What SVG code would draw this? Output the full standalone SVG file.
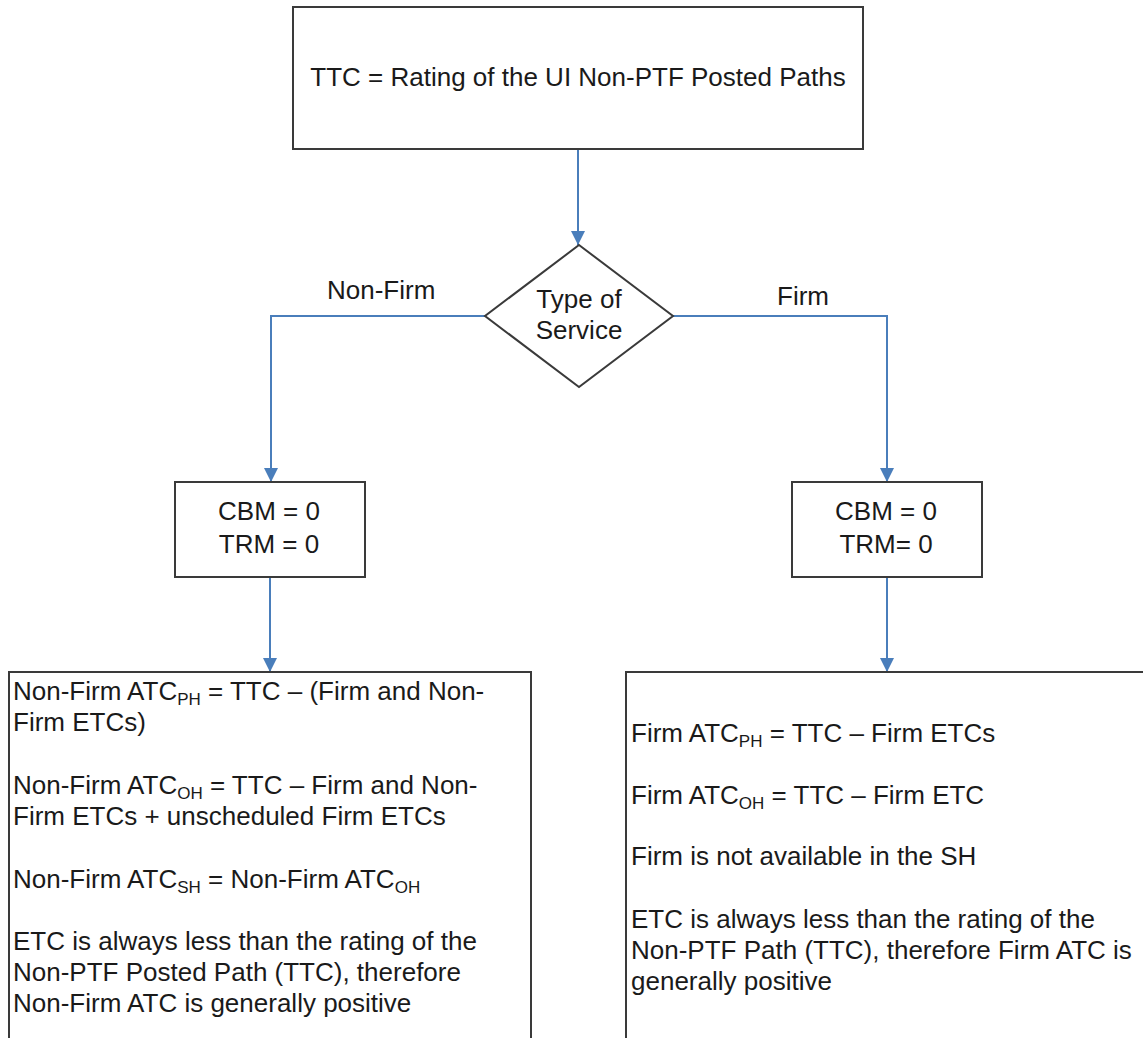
<svg xmlns="http://www.w3.org/2000/svg" width="1143" height="1038" viewBox="0 0 1143 1038">
<style>
.box{fill:#ffffff;stroke:#3a3a3a;stroke-width:2}
.t{font-family:"Liberation Sans",Arial,sans-serif;font-size:26px;fill:#1a1a1a}
.c{text-anchor:middle}
.sub{font-size:17px}
.conn{fill:none;stroke:#4a7ebb;stroke-width:2}
</style>
<defs>
<marker id="arr" markerUnits="userSpaceOnUse" markerWidth="14" markerHeight="14" viewBox="0 0 14 14" refX="14" refY="7" orient="auto">
<path d="M0,0 L14,7 L0,14 Z" fill="#4a7ebb"/>
</marker>
</defs>
<rect width="1143" height="1038" fill="#ffffff"/>
<g id="connectors">
<path class="conn" d="M578,149 L578,245" marker-end="url(#arr)"/>
<path class="conn" d="M485,316 L271,316 L271,482" marker-end="url(#arr)"/>
<path class="conn" d="M673,316 L887,316 L887,482" marker-end="url(#arr)"/>
<path class="conn" d="M270,577 L270,672" marker-end="url(#arr)"/>
<path class="conn" d="M887,577 L887,672" marker-end="url(#arr)"/>
</g>
<g id="labels">
<text class="t" x="327" y="299">Non-Firm</text>
<text class="t" x="777" y="305">Firm</text>
</g>
<g id="node-ttc">
<rect class="box" x="293" y="7" width="570" height="142"/>
<text class="t c" x="578" y="86">TTC = Rating of the UI Non-PTF Posted Paths</text>
</g>
<g id="node-type">
<polygon class="box" points="579,245 673,316 579,387 485,316"/>
<text class="t c" x="579" y="308">Type of</text>
<text class="t c" x="579" y="339">Service</text>
</g>
<g id="node-nonfirm-margins">
<rect class="box" x="175" y="482" width="190" height="95"/>
<text class="t c" x="269" y="520">CBM = 0</text>
<text class="t c" x="269" y="553">TRM = 0</text>
</g>
<g id="node-firm-margins">
<rect class="box" x="792" y="482" width="190" height="95"/>
<text class="t c" x="886" y="520">CBM = 0</text>
<text class="t c" x="886" y="553">TRM= 0</text>
</g>
<g id="node-nonfirm-atc">
<rect class="box" x="9" y="672" width="522" height="400"/>
<text class="t" x="13" y="700">Non-Firm ATC<tspan class="sub" dy="5">PH</tspan><tspan dy="-5"> = TTC – (Firm and Non-</tspan></text>
<text class="t" x="13" y="731">Firm ETCs)</text>
<text class="t" x="13" y="794">Non-Firm ATC<tspan class="sub" dy="5">OH</tspan><tspan dy="-5"> = TTC – Firm and Non-</tspan></text>
<text class="t" x="13" y="825">Firm ETCs + unscheduled Firm ETCs</text>
<text class="t" x="13" y="888">Non-Firm ATC<tspan class="sub" dy="5">SH</tspan><tspan dy="-5"> = Non-Firm ATC</tspan><tspan class="sub" dy="5">OH</tspan></text>
<text class="t" x="13" y="950">ETC is always less than the rating of the</text>
<text class="t" x="13" y="981">Non-PTF Posted Path (TTC), therefore</text>
<text class="t" x="13" y="1012">Non-Firm ATC is generally positive</text>
</g>
<g id="node-firm-atc">
<rect class="box" x="626" y="672" width="540" height="400"/>
<text class="t" x="631" y="742">Firm ATC<tspan class="sub" dy="5">PH</tspan><tspan dy="-5"> = TTC – Firm ETCs</tspan></text>
<text class="t" x="631" y="804">Firm ATC<tspan class="sub" dy="5">OH</tspan><tspan dy="-5"> = TTC – Firm ETC</tspan></text>
<text class="t" x="631" y="865">Firm is not available in the SH</text>
<text class="t" x="631" y="928">ETC is always less than the rating of the</text>
<text class="t" x="631" y="959">Non-PTF Path (TTC), therefore Firm ATC is</text>
<text class="t" x="631" y="990">generally positive</text>
</g>
</svg>
